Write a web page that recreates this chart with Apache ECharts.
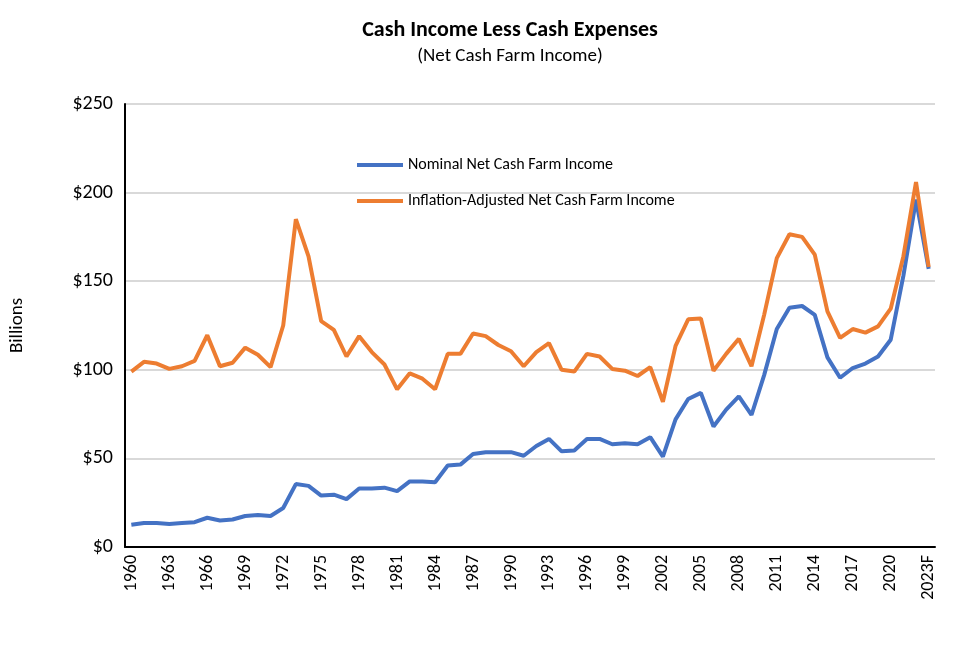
<!DOCTYPE html>
<html><head><meta charset="utf-8">
<script src="https://cdn.jsdelivr.net/npm/echarts@6/dist/echarts.min.js"></script>
<style>html,body{margin:0;padding:0;background:#fff}#c{width:953px;height:647px}</style>
</head><body><div id="c"></div>
<script>
const years = [];
for (let y = 1960; y <= 2023; y++) years.push(y === 2023 ? '2023F' : String(y));
const nominal = [12.5,13.5,13.5,13,13.5,14,16.5,15,15.5,17.5,18,17.5,22,35.5,34.5,29,29.5,27,33,33,33.5,31.5,37,37,36.5,46,46.5,52.5,53.5,53.5,53.5,51.5,57,61,54,54.5,61,61,58,58.5,58,62,51,72,83.5,87,68,77.5,85,74.5,97,123,135,136,131,107,95.5,101,103.5,107.5,117,153,196,157];
const adjusted = [99,104.5,103.5,100.5,102,105,119.5,102,104,112.5,108.5,101.5,125,185,164,127.5,122.5,107.5,119,110,103,89,98,95,89,109,109,120.5,119,114,110.5,102,110,115,100,99,109,107.5,100.5,99.5,96.5,101.5,82,113.5,128.5,129,99.5,109,117.5,102,131,163,176.5,175,165,133,118,123,121,124.5,134.5,164,206,158];
const font = 'Calibri, Carlito, "Open Sans", "Liberation Sans", sans-serif';
const chart = echarts.init(document.getElementById('c'));
chart.setOption({
  animation:false,
  title:{text:'Cash Income Less Cash Expenses',subtext:'(Net Cash Farm Income)',left:505,top:14,textAlign:'center',itemGap:6,
    textStyle:{fontFamily:font,fontSize:22,fontWeight:'bold',color:'#000'},
    subtextStyle:{fontFamily:font,fontSize:19,color:'#000'}},
  legend:{orient:'vertical',left:352,top:152,itemGap:20,itemWidth:46,itemHeight:4,icon:'rect',
    textStyle:{fontFamily:font,fontSize:16,color:'#000'},
    data:['Nominal Net Cash Farm Income','Inflation-Adjusted Net Cash Farm Income']},
  grid:{left:125,right:18,top:104,bottom:100},
  xAxis:{type:'category',data:years,boundaryGap:true,
    axisLine:{lineStyle:{color:'#000',width:2}},axisTick:{show:false},
    axisLabel:{interval:2,rotate:90,fontFamily:font,fontSize:18,color:'#000',margin:8}},
  yAxis:{type:'value',min:0,max:250,interval:50,name:'Billions',nameLocation:'middle',nameGap:98,
    nameTextStyle:{fontFamily:font,fontSize:19,color:'#000'},
    axisLine:{show:true,lineStyle:{color:'#000',width:2}},
    axisLabel:{formatter:v=>'$'+v,fontFamily:font,fontSize:20,color:'#000',margin:12},
    splitLine:{lineStyle:{color:'#d9d9d9',width:2}}},
  series:[
    {name:'Nominal Net Cash Farm Income',type:'line',data:nominal,symbol:'none',
      lineStyle:{color:'#4472C4',width:4},itemStyle:{color:'#4472C4'},z:2},
    {name:'Inflation-Adjusted Net Cash Farm Income',type:'line',data:adjusted,symbol:'none',
      lineStyle:{color:'#ED7D31',width:4},itemStyle:{color:'#ED7D31'},z:3}
  ]
});
</script></body></html>
